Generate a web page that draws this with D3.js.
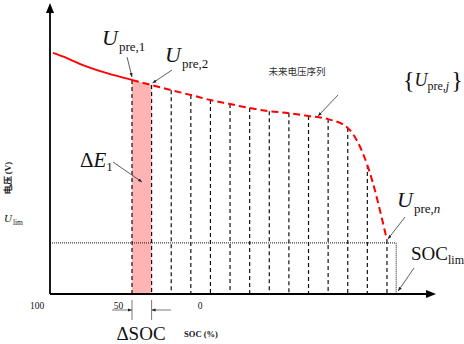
<!DOCTYPE html>
<html>
<head>
<meta charset="utf-8">
<script src="https://cdn.jsdelivr.net/npm/d3@7"></script>
<style>
  body { margin: 0; background: #fff; }
  svg { display: block; }
  text { fill: #111; }
</style>
</head>
<body>
<div id="chart"></div>
<script>
// measured voltage (solid red), x in prediction steps
const histSteps = [-4.03, -3.32, -2.5, -1.63, -0.77, 0];
const histVolt = [0.849, 0.831, 0.806, 0.785, 0.768, 0.754];

// predicted future voltage sequence (dashed red), one per step
const predSteps = [0, 1, 2, 3, 4, 5, 6, 7, 8, 9, 10, 11, 12, 13];
const predVolt = [0.754, 0.736, 0.718, 0.701, 0.683, 0.669, 0.655, 0.644, 0.637, 0.627, 0.616, 0.585, 0.454, 0.190];

const uLim = 0.180;
const socLimStep = 13.47;
const socTicks = [100, 50, 0];

var width = 464, height = 344;
var serif = "'Liberation Serif', 'Times New Roman', serif";

var svg = d3.select("#chart").append("svg")
    .attr("width", width)
    .attr("height", height);

var defs = svg.append("defs");
defs.append("marker")
    .attr("id", "tip")
    .attr("viewBox", "0 0 10 10")
    .attr("refX", 10).attr("refY", 5)
    .attr("markerWidth", 5).attr("markerHeight", 5)
    .attr("orient", "auto")
    .append("path")
    .attr("d", "M0,1 L10,5 L0,9 Z")
    .attr("fill", "#222");

const x = d3.scaleLinear().domain([-4.18, 15.5]).range([50, 436]);
const y = d3.scaleLinear().domain([0, 1.025]).range([294, 3]);
const socLabel = d3.scaleLinear().domain([100, 0]).range([37, 200]);

const hist = histSteps.map((s, i) => ({s: s, v: histVolt[i]}));
const pred = predSteps.map((s, i) => ({s: s, v: predVolt[i]}));

// shaded first interval
svg.append("path")
    .datum(pred.slice(0, 2))
    .attr("fill", "#ffb4b4")
    .attr("d", d3.area().x(d => x(d.s)).y0(y(0)).y1(d => y(d.v)));

// vertical dashed step lines
svg.selectAll(".step")
    .data(pred)
    .enter().append("line")
    .attr("class", "step")
    .attr("x1", d => x(d.s)).attr("x2", d => x(d.s))
    .attr("y1", d => y(d.v)).attr("y2", y(0))
    .attr("stroke", "#111")
    .attr("stroke-width", 1.2)
    .attr("stroke-dasharray", "4,3");

// U_lim dotted line and SOC_lim drop
svg.append("path")
    .attr("d", `M${x.range()[0]},${y(uLim)} H${x(socLimStep)} V${y(0)}`)
    .attr("fill", "none")
    .attr("stroke", "#111")
    .attr("stroke-width", 1)
    .attr("stroke-dasharray", "1,1");

var line = d3.line().x(d => x(d.s)).y(d => y(d.v)).curve(d3.curveMonotoneX);

svg.append("path")
    .datum(hist)
    .attr("fill", "none")
    .attr("stroke", "#ff0000")
    .attr("stroke-width", 1.8)
    .attr("d", line);

svg.append("path")
    .datum(pred)
    .attr("fill", "none")
    .attr("stroke", "#ff0000")
    .attr("stroke-width", 2)
    .attr("stroke-dasharray", "7,4")
    .attr("d", line);

// axes with arrow heads
var x0 = x.range()[0], y0 = y(0);
svg.append("line")
    .attr("x1", x0).attr("y1", y0).attr("x2", x0).attr("y2", y.range()[1] + 6)
    .attr("stroke", "#000").attr("stroke-width", 1.8);
svg.append("path")
    .attr("d", `M${x0},${y.range()[1]} L${x0 - 4},${y.range()[1] + 10} L${x0 + 4},${y.range()[1] + 10} Z`)
    .attr("fill", "#000");
svg.append("line")
    .attr("x1", x0).attr("y1", y0).attr("x2", x.range()[1] - 6).attr("y2", y0)
    .attr("stroke", "#000").attr("stroke-width", 1.8);
svg.append("path")
    .attr("d", `M${x.range()[1]},${y0} L${x.range()[1] - 10},${y0 - 4} L${x.range()[1] - 10},${y0 + 4} Z`)
    .attr("fill", "#000");

// SOC tick labels
svg.selectAll(".tick")
    .data(socTicks)
    .enter().append("text")
    .attr("class", "tick")
    .attr("x", d => socLabel(d))
    .attr("y", 309)
    .attr("text-anchor", "middle")
    .attr("font-family", serif)
    .attr("font-size", 9.5)
    .text(d => d);

svg.append("text")
    .attr("x", 201).attr("y", 337)
    .attr("text-anchor", "middle")
    .attr("font-family", serif)
    .attr("font-size", 8.5)
    .attr("font-weight", "bold")
    .text("SOC (%)");

svg.append("text")
    .attr("transform", "translate(11,178) rotate(-90)")
    .attr("text-anchor", "middle")
    .attr("font-family", serif)
    .attr("font-size", 9)
    .attr("font-weight", "bold")
    .text("电压 (V)");

// helper for italic symbol with subscript
function symbol(px, py, main, sub, size, subSize) {
    var t = svg.append("text")
        .attr("x", px).attr("y", py)
        .attr("font-family", serif)
        .attr("font-size", size);
    t.append("tspan").attr("font-style", "italic").text(main);
    var s = t.append("tspan")
        .attr("font-size", subSize)
        .attr("dx", 1)
        .attr("dy", size * 0.25);
    sub.forEach(part => s.append("tspan")
        .attr("font-style", part.it ? "italic" : "normal")
        .text(part.t));
    return t;
}

symbol(102, 45, "U", [{t: "pre,1"}], 22, 13);
symbol(165, 62, "U", [{t: "pre,2"}], 22, 13);
symbol(397, 207, "U", [{t: "pre,"}, {t: "n", it: true}], 22, 13);
symbol(4, 222, "U", [{t: "lim"}], 11, 7.5);

// {U_pre,j}
var br = svg.append("text")
    .attr("x", 403).attr("y", 86)
    .attr("font-family", serif)
    .attr("font-size", 18);
br.append("tspan").attr("font-size", 24).attr("dy", 2).text("{");
br.append("tspan").attr("font-style", "italic").attr("dy", -2).text("U");
br.append("tspan").attr("font-size", 12).attr("dy", 4).text("pre,");
br.append("tspan").attr("font-size", 12).attr("font-style", "italic").text("j");
br.append("tspan").attr("font-size", 24).attr("dy", -2).attr("dx", 2).text("}");

// ΔE1
var de = svg.append("text")
    .attr("x", 80).attr("y", 167)
    .attr("font-family", serif)
    .attr("font-size", 21);
de.append("tspan").text("Δ");
de.append("tspan").attr("font-style", "italic").text("E");
de.append("tspan").attr("font-size", 13).attr("dy", 4).text("1");

// SOC_lim
var sl = svg.append("text")
    .attr("x", 411).attr("y", 260)
    .attr("font-family", serif)
    .attr("font-size", 19);
sl.append("tspan").text("SOC");
sl.append("tspan").attr("font-size", 12).attr("dy", 4).text("lim");

svg.append("text")
    .attr("x", 141).attr("y", 340)
    .attr("text-anchor", "middle")
    .attr("font-family", serif)
    .attr("font-size", 19)
    .text("ΔSOC");

svg.append("text")
    .attr("x", 297).attr("y", 75)
    .attr("text-anchor", "middle")
    .attr("font-family", "'Noto Sans CJK SC', sans-serif")
    .attr("font-size", 9.5)
    .style("fill", "#333")
    .text("未来电压序列");

// annotation arrows
function arrow(x1, y1, x2, y2) {
    svg.append("line")
        .attr("x1", x1).attr("y1", y1).attr("x2", x2).attr("y2", y2)
        .attr("stroke", "#333")
        .attr("stroke-width", 0.8)
        .attr("marker-end", "url(#tip)");
}
arrow(127, 57, x(0), y(predVolt[0]) - 3);
arrow(172, 70, x(1) + 1, y(predVolt[1]) - 2);
arrow(338, 95, 318, 116);
arrow(113, 162, 142, 182);
arrow(405, 217, x(13) + 1, y(predVolt[13]) - 1);
arrow(414, 268, x(socLimStep) + 2, y(0) - 3);

// ΔSOC width marker
var my = 310;
svg.append("line")
    .attr("x1", 112).attr("y1", my).attr("x2", x(0)).attr("y2", my)
    .attr("stroke", "#555").attr("stroke-width", 0.8)
    .attr("marker-end", "url(#tip)");
svg.append("line")
    .attr("x1", 171).attr("y1", my).attr("x2", x(1)).attr("y2", my)
    .attr("stroke", "#555").attr("stroke-width", 0.8)
    .attr("marker-end", "url(#tip)");
[0, 1].forEach(s => svg.append("line")
    .attr("x1", x(s)).attr("x2", x(s))
    .attr("y1", 300).attr("y2", 320)
    .attr("stroke", "#555").attr("stroke-width", 0.8));
</script>
</body>
</html>
